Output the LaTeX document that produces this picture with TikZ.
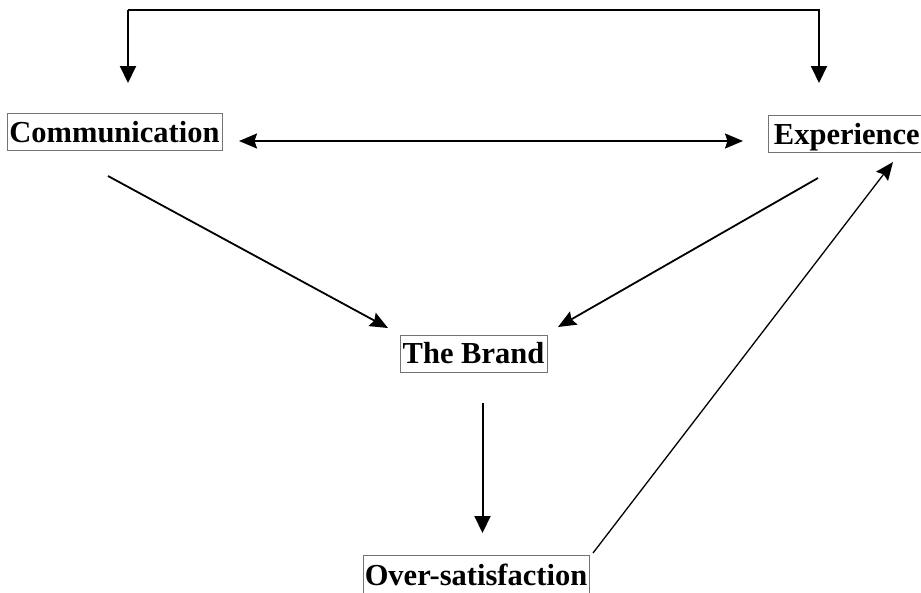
\documentclass[tikz,border=0pt]{standalone}
\usepackage{fontspec}
\setmainfont{Liberation Serif}
\usetikzlibrary{arrows.meta}
\begin{document}
\begin{tikzpicture}[x=1pt,y=-1pt,
  label box/.style={draw=black!55, line width=0.6pt, inner sep=0pt,
    font=\bfseries\fontsize{30.5}{30.5}\selectfont, text height=20pt, text depth=0pt},
  tip/.tip={Stealth[length=18pt,width=15pt,inset=2.5pt]},
  link/.style={line width=1.8pt, -tip},
  thin link/.style={line width=1.3pt, -tip},
  both link/.style={line width=1.8pt, tip-tip},
  drop/.style={line width=2pt, -{Triangle[length=17pt,width=16pt]}}]
\useasboundingbox (0,0) rectangle (921,592);

% concept boxes
\node[label box, minimum width=215pt, minimum height=37pt] (comm) at (114.5,132) {Communication};
\node[label box, minimum width=157pt, minimum height=37pt, anchor=west] (exp) at (768,134) {Experience};
\node[label box, minimum width=147pt, minimum height=37pt] (brand) at (473.5,353.5) {The Brand};
\node[label box, minimum width=226pt, minimum height=40pt, anchor=north] (over) at (476,555) {Over-satisfaction};

% loop across the top feeding both sources
\coordinate (topL) at (128,10);
\coordinate (topR) at (819,10);
\coordinate (inL) at (128,83);
\coordinate (inR) at (819,83);
\draw[drop] (topL) -- (inL);
\draw[drop] (topL) -- (topR) -- (inR);

% communication <-> experience
\coordinate (cR) at (239,141);
\coordinate (eL) at (743,141);
\draw[both link] (cR) -- (eL);

% both sources shape the brand
\coordinate (cOut) at (108,176);
\coordinate (eOut) at (818,178);
\coordinate (bInL) at (388,328);
\coordinate (bInR) at (558,327);
\draw[link] (cOut) -- (bInL);
\draw[link] (eOut) -- (bInR);

% brand -> over-satisfaction
\coordinate (bOut) at (482.5,403);
\coordinate (oIn) at (482.5,533);
\draw[drop] (bOut) -- (oIn);

% over-satisfaction feeds back into experience
\coordinate (oOut) at (593,553);
\coordinate (eIn) at (893,162);
\draw[thin link] (oOut) -- (eIn);
\end{tikzpicture}
\end{document}
